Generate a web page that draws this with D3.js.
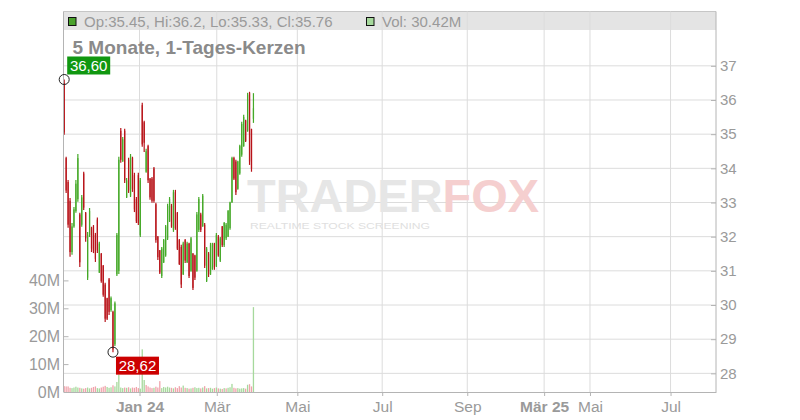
<!DOCTYPE html>
<html><head><meta charset="utf-8">
<script src="https://cdn.jsdelivr.net/npm/d3@7"></script>
<style>
html,body{margin:0;padding:0;background:#fff;}
svg{display:block;font-family:"Liberation Sans",Arial,Helvetica,sans-serif;}
</style></head><body>
<svg id="chart" width="800" height="420"></svg>
<script>
// ---- data (daily candles, ~Nov 2023 – Mar 2024) ----
const opens  = [36.50,34.30,33.60,33.05,31.55,32.30,32.75,33.10,32.65,32.35,
                33.85,32.70,30.80,32.05,32.25,32.30,32.05,32.50,30.95,31.50,
                31.15,30.60,30.20,30.75,29.85,29.80,28.85,30.90,31.00,35.10,
                34.20,35.10,33.15,34.25,33.20,34.30,33.80,33.10,33.80,32.05,
                35.85,35.35,33.90,34.65,33.70,33.70,34.00,32.95,32.00,31.60,
                30.85,31.25,31.45,31.95,32.45,32.90,32.20,33.30,32.70,31.90,
                31.70,30.90,31.90,31.25,31.80,31.00,31.50,31.45,31.00,32.20,
                32.65,32.30,32.35,30.70,31.50,30.90,31.05,31.80,31.15,32.00,
                31.30,32.30,31.75,31.95,32.00,32.25,33.00,34.30,34.20,33.40,
                33.85,34.40,34.65,35.40,35.10,36.20,35.15,35.45];
const highs  = [36.60,34.34,33.66,33.13,32.40,32.87,33.66,34.42,32.70,33.22,
                33.90,32.72,32.14,32.84,32.29,32.34,32.11,32.56,31.85,31.52,
                31.17,30.65,30.21,30.79,30.25,29.83,30.10,32.11,34.34,35.18,
                34.92,35.16,33.72,34.31,34.42,34.34,33.87,33.16,33.87,33.72,
                35.92,35.39,34.57,34.69,33.72,33.75,34.04,32.99,32.02,31.61,
                31.70,31.93,32.34,32.96,33.16,32.96,33.37,33.37,32.72,31.93,
                31.76,31.85,31.93,31.85,31.82,31.99,31.52,31.47,32.72,33.16,
                32.70,33.25,32.40,31.70,31.55,31.82,31.82,31.82,32.11,32.05,
                31.99,32.31,32.43,32.40,32.78,33.02,34.34,34.34,34.25,34.22,
                34.69,35.36,35.57,35.42,36.21,36.24,35.16,36.20];
const lows   = [34.98,33.28,32.26,31.41,31.47,32.26,32.70,33.02,31.11,32.29,
                32.78,31.85,30.73,31.99,31.55,31.52,31.26,31.52,30.94,30.65,
                30.24,29.50,29.56,29.71,29.80,28.62,28.80,30.85,30.91,34.16,
                34.19,33.57,33.13,33.28,33.16,33.31,32.72,32.40,32.34,31.99,
                34.63,34.48,33.87,33.57,33.08,32.99,32.99,31.82,31.32,30.91,
                30.79,31.23,31.41,31.90,32.43,32.26,32.14,32.20,31.61,31.17,
                30.50,30.88,31.23,31.23,30.79,30.97,30.44,30.73,30.97,32.14,
                32.14,32.29,31.08,30.67,30.82,30.88,31.03,31.03,31.11,31.41,
                31.26,31.70,31.70,31.90,31.99,32.20,32.99,33.66,33.22,33.37,
                33.81,34.34,34.63,34.77,35.07,34.10,33.90,35.33];
const closes = [35.05,33.35,32.35,31.55,32.30,32.80,33.55,34.30,31.25,33.15,
                32.85,31.95,32.05,32.75,31.65,31.60,31.35,31.60,31.80,30.70,
                30.30,29.60,29.60,29.80,30.20,28.70,30.05,32.05,34.25,34.25,
                34.85,33.65,33.65,33.35,34.35,33.40,32.80,32.45,32.40,33.65,
                34.70,34.75,34.50,33.65,33.15,33.05,33.05,31.90,31.40,30.95,
                31.65,31.90,32.30,32.90,33.10,32.30,33.30,32.25,31.65,31.20,
                30.60,31.80,31.30,31.80,30.85,31.95,30.50,30.80,32.65,33.10,
                32.20,33.20,31.15,31.65,30.90,31.75,31.80,31.10,32.05,31.45,
                31.95,31.75,32.40,32.35,32.75,33.00,34.30,33.70,33.30,34.20,
                34.65,35.30,35.50,34.80,36.15,34.20,34.00,35.76];
// volume in millions
const volumes = [2.1,2.0,2.0,1.5,1.4,1.6,1.9,1.6,1.5,1.3,
                 1.2,1.4,1.6,1.3,1.5,1.8,2.0,1.4,1.3,1.6,
                 1.9,2.2,1.8,1.5,1.7,2.4,2.0,3.6,6.2,1.6,
                 1.4,1.6,1.5,1.7,1.3,1.6,1.5,1.8,1.4,1.2,
                 15.3,4.3,2.5,2.0,1.6,1.4,1.5,1.9,1.6,3.9,
                 1.4,1.8,1.6,1.9,1.6,1.5,1.3,1.7,1.4,2.1,
                 1.6,2.3,1.5,1.4,1.2,1.3,1.5,1.7,1.4,1.5,
                 1.3,1.6,2.1,1.3,1.4,1.5,1.2,1.4,1.6,1.3,
                 1.2,1.1,1.4,1.3,1.5,1.7,2.9,1.5,1.3,1.4,
                 1.2,1.3,1.4,1.2,2.6,2.8,2.0,30.42];
const priceTicks  = [28,29,30,31,32,33,34,35,36,37];
const volumeTicks = [0,10,20,30,40];
const xTickLabels = ["Jan 24","Mär","Mai","Jul","Sep","Mär 25","Mai","Jul"];
const xTickSlots  = [38.6,78.2,119.5,163.0,206.6,246.0,269.5,310.8];
const xTickBold   = [true,false,false,false,false,true,false,false];
const titleText   = "5 Monate, 1-Tages-Kerzen";

// ---- layout ----
const L = 63.5, R = 716, T = 11.5, B = 392;
const svg = d3.select("#chart");
const x  = d3.scaleLinear().domain([-0.36, 334.1]).range([L, R]);
const y  = d3.scaleLinear().domain([27.454, 38.59]).range([B, T]);
const yv = d3.scaleLinear().domain([0, 40]).range([B, B - 111.6]);

const UP = "#45a928", DOWN = "#b8141a";
const VUP = "#a6d99c", VDOWN = "#f0a3ab";
const GRID = "#dcdcdc", AXIS = "#b4b4b4", TXT = "#9a9a9a";

// header band
svg.append("rect").attr("x", L).attr("y", T).attr("width", R - L).attr("height", 18.5)
  .attr("fill", "#e4e4e4");
svg.append("line").attr("x1", L).attr("x2", R).attr("y1", T).attr("y2", T)
  .attr("stroke", "#c6c6c6").attr("stroke-width", 1);

// grid
const grid = svg.append("g");
grid.selectAll("line.h").data(priceTicks).join("line").attr("class", "h")
  .attr("x1", L).attr("x2", R).attr("y1", d => y(d)).attr("y2", d => y(d))
  .attr("stroke", GRID).attr("stroke-width", 1);
grid.selectAll("line.v").data(xTickSlots).join("line").attr("class", "v")
  .attr("x1", d => x(d)).attr("x2", d => x(d)).attr("y1", T).attr("y2", B)
  .attr("stroke", GRID).attr("stroke-width", 1);

// watermark
const wm = svg.append("g");
const wmt = wm.append("text").attr("x", 247).attr("y", 212)
  .attr("font-size", 46).attr("font-weight", "bold")
  .attr("textLength", 292).attr("lengthAdjust", "spacingAndGlyphs");
wmt.append("tspan").attr("fill", "#e6e6e6").text("TRADER");
wmt.append("tspan").attr("fill", "#f5cfcf").text("FOX");
wm.append("text").attr("x", 250).attr("y", 229).text("REALTIME STOCK SCREENING")
  .attr("font-size", 9).attr("fill", "#e0e0e0")
  .attr("textLength", 180).attr("lengthAdjust", "spacingAndGlyphs");

// volume bars
const idx = d3.range(volumes.length);
svg.append("g").selectAll("rect").data(idx).join("rect")
  .attr("x", i => x(i) - 0.65).attr("width", 1.3)
  .attr("y", i => yv(volumes[i])).attr("height", i => B - yv(volumes[i]))
  .attr("fill", i => (i === 0 ? closes[i] >= opens[i] : closes[i] >= closes[i - 1]) ? VUP : VDOWN);

// candles
const cg = svg.append("g");
cg.selectAll("line").data(idx).join("line")
  .attr("x1", i => x(i)).attr("x2", i => x(i))
  .attr("y1", i => y(highs[i])).attr("y2", i => y(lows[i]))
  .attr("stroke", i => closes[i] >= opens[i] ? UP : DOWN).attr("stroke-width", 1.2);
cg.selectAll("rect").data(idx).join("rect")
  .attr("x", i => x(i) - 0.6).attr("width", 1.2)
  .attr("y", i => y(Math.max(opens[i], closes[i])))
  .attr("height", i => Math.max(0.5, Math.abs(y(opens[i]) - y(closes[i]))))
  .attr("fill", i => closes[i] >= opens[i] ? UP : DOWN);

// axes
const fmtDe = v => d3.format(".2f")(v).replace(".", ",");
const yAxis = svg.append("g").attr("transform", `translate(${R},0)`)
  .call(d3.axisRight(y).tickValues(priceTicks).tickSizeInner(-5).tickSizeOuter(0).tickPadding(4));
const vAxis = svg.append("g").attr("transform", `translate(${L},0)`)
  .call(d3.axisLeft(yv).tickValues(volumeTicks).tickFormat(d => d + "M").tickSizeInner(-5).tickSizeOuter(0).tickPadding(3.5));
const xAxis = svg.append("g").attr("transform", `translate(0,${B})`)
  .call(d3.axisBottom(x).tickValues(xTickSlots).tickFormat((d, i) => xTickLabels[i]).tickSizeInner(4).tickSizeOuter(0).tickPadding(4.5));
[yAxis, vAxis, xAxis].forEach(g => {
  g.select(".domain").attr("stroke", AXIS);
  g.selectAll(".tick line").attr("stroke", AXIS);
  g.selectAll("text").attr("fill", TXT).attr("font-family", '"Liberation Sans",Arial,sans-serif');
});
yAxis.selectAll("text").attr("font-size", 15);
vAxis.selectAll("text").attr("font-size", 16);
xAxis.selectAll("text").attr("font-size", 15.5).attr("font-weight", (d, i) => xTickBold[i] ? "bold" : "normal");
yAxis.select(".domain").attr("d", `M0,${T}V${B}`);
vAxis.select(".domain").attr("d", `M0,${T}V${B}`);

// header legend
const last = volumes.length - 1;
const f2 = v => String(+v.toFixed(2));
svg.append("rect").attr("x", 68.5).attr("y", 17.5).attr("width", 7.5).attr("height", 8)
  .attr("fill", "#4aa22c").attr("stroke", "#111").attr("stroke-width", 1);
svg.append("text").attr("x", 84).attr("y", 26.5).attr("font-size", 15).attr("fill", TXT)
  .text(`Op:${f2(opens[last])}, Hi:${f2(highs[last])}, Lo:${f2(lows[last])}, Cl:${f2(closes[last])}`);
svg.append("rect").attr("x", 366.5).attr("y", 17.5).attr("width", 7.5).attr("height", 8)
  .attr("fill", VUP).attr("stroke", "#111").attr("stroke-width", 1);
svg.append("text").attr("x", 382).attr("y", 26.5).attr("font-size", 15).attr("fill", TXT)
  .text(`Vol: ${f2(volumes[last])}M`);

// title
svg.append("text").attr("x", 72.5).attr("y", 54).attr("font-size", 19).attr("font-weight", "bold")
  .attr("fill", "#8a8a8a").text(titleText);

// max / min markers
const iMax = d3.maxIndex(highs), iMin = d3.minIndex(lows);
const mk = svg.append("g");
mk.append("circle").attr("cx", x(iMax)).attr("cy", y(highs[iMax])).attr("r", 5)
  .attr("fill", "none").attr("stroke", "#222").attr("stroke-width", 1);
mk.append("circle").attr("cx", x(iMin)).attr("cy", y(lows[iMin])).attr("r", 5)
  .attr("fill", "none").attr("stroke", "#222").attr("stroke-width", 1);
function badge(bx, by, txt, col) {
  mk.append("rect").attr("x", bx).attr("y", by).attr("width", 43).attr("height", 18).attr("fill", col);
  mk.append("text").attr("x", bx + 21.5).attr("y", by + 14.5).attr("text-anchor", "middle")
    .attr("font-size", 15).attr("fill", "#fff").text(txt);
}
badge(x(iMax) + 3, y(highs[iMax]) - 23, fmtDe(highs[iMax]), "#109710");
badge(x(iMin) + 3, y(lows[iMin]) + 4.5, fmtDe(lows[iMin]), "#cc0000");
</script>
</body></html>
